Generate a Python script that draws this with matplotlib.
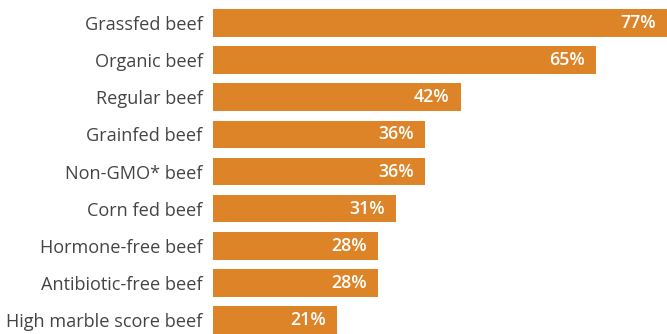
import matplotlib
matplotlib.use("Agg")
import matplotlib.pyplot as plt

categories = [
    "Grassfed beef",
    "Organic beef",
    "Regular beef",
    "Grainfed beef",
    "Non-GMO* beef",
    "Corn fed beef",
    "Hormone-free beef",
    "Antibiotic-free beef",
    "High marble score beef",
]
values = [77, 65, 42, 36, 36, 31, 28, 28, 21]

bar_color = "#DD8428"
bar_h = 0.74

plt.rcParams["font.family"] = ["Open Sans", "DejaVu Sans"]

fig = plt.figure(figsize=(6.67, 3.34), dpi=100)
ax = fig.add_axes([213 / 667, 0.0, 1 - 213 / 667, 1 - 9 / 334])

ypos = list(range(len(categories)))
ax.barh(ypos, values, height=bar_h, color=bar_color, edgecolor="none")

ax.set_xlim(0, max(values))
ax.set_ylim(len(categories) - 1 + bar_h / 2, -bar_h / 2)

for y, v in zip(ypos, values):
    ax.annotate(f"{v}%", xy=(v, y), xytext=(-8, 0), textcoords="offset points",
                ha="right", va="center", color="white", fontsize=12.8,
                fontweight="semibold")

ax.set_yticks(ypos)
ax.set_yticklabels(categories, fontsize=13.1, color="#444444")
ax.tick_params(axis="y", length=0, pad=7.5)
ax.set_xticks([])
for s in ax.spines.values():
    s.set_visible(False)

fig.savefig("out.png", dpi=100)
